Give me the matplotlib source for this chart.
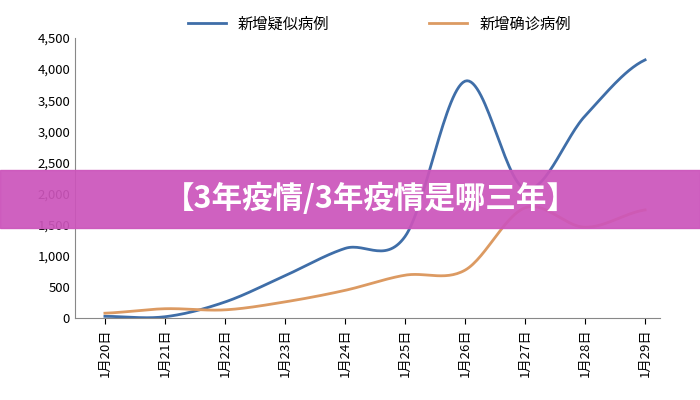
import numpy as np
import matplotlib.pyplot as plt
from matplotlib import font_manager
from matplotlib.ticker import FuncFormatter

cjk = sorted({f.name for f in font_manager.fontManager.ttflist
              if "CJK" in f.name and "Sans" in f.name and "Mono" not in f.name})
plt.rcParams["font.family"] = (["Noto Sans CJK SC"] if "Noto Sans CJK SC" in cjk else cjk[:1]) + ["DejaVu Sans"]

dates = ["1月20日", "1月21日", "1月22日", "1月23日", "1月24日",
         "1月25日", "1月26日", "1月27日", "1月28日", "1月29日"]
suspected = [27, 20, 257, 680, 1118, 1309, 3806, 2077, 3248, 4148]
confirmed = [77, 149, 131, 259, 444, 688, 769, 1771, 1459, 1737]


def smooth(y, n=30):
    # Catmull-Rom style curve through the points, like Excel's smoothed line
    y = np.asarray(y, float)
    p = np.concatenate([[y[0]], y, [y[-1]]])
    xs, ys = [], []
    for i in range(len(y) - 1):
        t = np.linspace(0, 1, n, endpoint=False)
        p0, p1, p2, p3 = p[i], p[i + 1], p[i + 2], p[i + 3]
        ys.append(0.5 * (2 * p1 + (-p0 + p2) * t + (2 * p0 - 5 * p1 + 4 * p2 - p3) * t**2
                         + (-p0 + 3 * p1 - 3 * p2 + p3) * t**3))
        xs.append(i + t)
    xs.append([len(y) - 1])
    ys.append([y[-1]])
    return np.concatenate(xs), np.concatenate(ys)


fig = plt.figure(figsize=(7, 4), dpi=100)
ax = fig.add_axes([0.107, 0.205, 0.836, 0.70])
x = np.arange(len(dates))
ax.plot(*smooth(suspected), color="#3f6ea8", lw=2, label="新增疑似病例")
ax.plot(*smooth(confirmed), color="#dc9a62", lw=2, label="新增确诊病例")

ax.set_xlim(-0.5, 9.25)
ax.set_ylim(0, 4500)
ax.set_yticks(range(0, 4501, 500))
ax.yaxis.set_major_formatter(FuncFormatter(lambda v, p: f"{int(v):,}"))
ax.set_xticks(x)
ax.set_xticklabels(dates, rotation=90, fontsize=9.5)
ax.tick_params(axis="y", labelsize=9.5, length=0)
ax.tick_params(axis="x", length=4)
for s in ["top", "right"]:
    ax.spines[s].set_visible(False)
ax.spines["left"].set_color("#888888")
ax.spines["bottom"].set_color("#888888")
ax.legend(loc="upper center", bbox_to_anchor=(0.52, 1.13), ncol=2, frameon=False,
          fontsize=11, handlelength=2.5, columnspacing=6.5)

# banner overlay
fig.patches.append(plt.Rectangle((0, 0.43), 1, 0.145, transform=fig.transFigure,
                                 color="#cc55bb", alpha=0.93, zorder=5))
fig.text(0.53, 0.503, "【3年疫情/3年疫情是哪三年】", ha="center", va="center",
         fontsize=22, fontweight="bold", color="white", zorder=6)

fig.savefig("out.png", dpi=100, facecolor="white")
